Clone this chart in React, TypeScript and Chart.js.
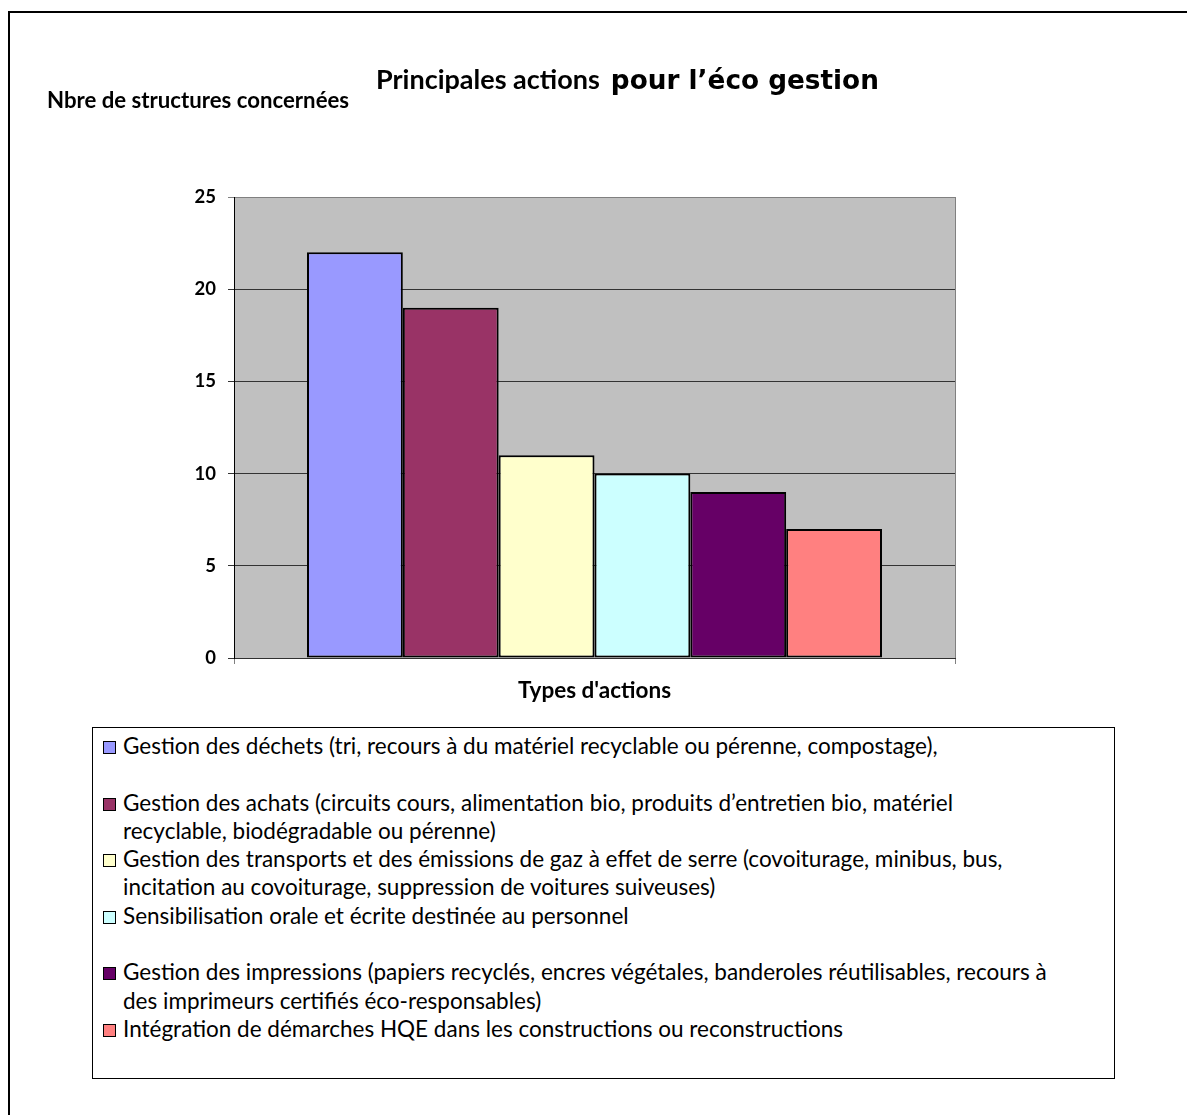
import React, { useEffect, useRef } from "react";
import { Chart, registerables } from "chart.js";

Chart.register(...registerables);

const categories = ["Actions"];
const seriesLabels = [
  "Gestion des déchets (tri, recours à du matériel recyclable ou pérenne, compostage),",
  "Gestion des achats (circuits cours, alimentation bio, produits d’entretien bio, matériel recyclable, biodégradable ou pérenne)",
  "Gestion des transports et des émissions de gaz à effet de serre (covoiturage, minibus, bus, incitation au covoiturage, suppression de voitures suiveuses)",
  "Sensibilisation orale et écrite destinée au personnel",
  "Gestion des impressions (papiers recyclés, encres végétales, banderoles réutilisables, recours à des imprimeurs certifiés éco-responsables)",
  "Intégration de démarches HQE dans les constructions ou reconstructions",
];
const legendLines = [
  ["Gestion des déchets (tri, recours à du matériel recyclable ou pérenne, compostage),"],
  ["Gestion des achats (circuits cours, alimentation bio, produits d’entretien bio, matériel", "recyclable, biodégradable ou pérenne)"],
  ["Gestion des transports et des émissions de gaz à effet de serre (covoiturage, minibus, bus,", "incitation au covoiturage, suppression de voitures suiveuses)"],
  ["Sensibilisation orale et écrite destinée au personnel"],
  ["Gestion des impressions (papiers recyclés, encres végétales, banderoles réutilisables, recours à", "des imprimeurs certifiés éco-responsables)"],
  ["Intégration de démarches HQE dans les constructions ou reconstructions"],
];
const seriesValues = [22, 19, 11, 10, 9, 7];
const seriesColors = ["#9999FF", "#993366", "#FFFFCC", "#CCFFFF", "#660066", "#FF8080"];
const yTickValues = [0, 5, 10, 15, 20, 25];
const titlePart1 = "Principales actions";
const titlePart2 = "pour l’éco gestion";
const yAxisTitle = "Nbre de structures concernées";
const xAxisTitle = "Types d'actions";

const SANS = "Lato, 'Noto Sans', sans-serif";

const plotBackground = {
  id: "plotBackground",
  beforeDraw(chart: any) {
    const { ctx, chartArea } = chart;
    ctx.save();
    ctx.fillStyle = "#C0C0C0";
    ctx.fillRect(chartArea.left, chartArea.top, chartArea.right - chartArea.left, chartArea.bottom - chartArea.top);
    ctx.restore();
  },
};

export default function App() {
  const ref = useRef<HTMLCanvasElement | null>(null);

  useEffect(() => {
    if (!ref.current) return;
    const chart = new Chart(ref.current, {
      type: "bar",
      data: {
        labels: categories,
        datasets: seriesValues.map((v, i) => ({
          label: seriesLabels[i],
          data: [v],
          backgroundColor: seriesColors[i],
          borderColor: "#000000",
          borderWidth: 2,
          borderSkipped: false,
          barPercentage: 1,
          categoryPercentage: 0.7975,
        })),
      },
      options: {
        responsive: false,
        animation: false,
        layout: { padding: { left: 0, top: 197, right: 232, bottom: 0 } },
        plugins: {
          legend: { display: false },
          title: { display: false },
          tooltip: { enabled: false },
        },
        scales: {
          x: {
            grid: {
              offset: true,
              drawOnChartArea: true,
              color: "#808080",
              tickLength: 6,
            },
            border: { color: "#303030", width: 1 },
            ticks: { display: false },
            title: {
              display: true,
              text: xAxisTitle,
              color: "#000",
              font: { family: SANS, weight: "bold", size: 22.5 },
              padding: { top: 0, bottom: 16 },
            },
            afterFit: (s: any) => {
              s.height = 62;
            },
          },
          y: {
            min: yTickValues[0],
            max: yTickValues[yTickValues.length - 1],
            ticks: {
              stepSize: 5,
              color: "#000",
              font: { family: SANS, weight: "bold", size: 18.5 },
              padding: 12,
            },
            grid: {
              color: (c: any) => (c.tick && c.tick.value === 25 ? "#808080" : "#333333"),
              tickLength: 6,
            },
            border: { color: "#000", width: 1 },
            afterFit: (s: any) => {
              s.width = 234;
            },
          },
        },
      },
      plugins: [plotBackground],
    });
    return () => chart.destroy();
  }, []);

  return (
    <div
      style={{
        position: "absolute",
        left: 0,
        top: 0,
        width: 1187,
        height: 1115,
        overflow: "hidden",
        background: "#fff",
        fontFamily: SANS,
      }}
    >
      <div
        style={{
          position: "absolute",
          left: 8,
          top: 11,
          width: 1300,
          height: 1300,
          border: "2px solid #000",
        }}
      />
      <canvas ref={ref} width={1187} height={720} style={{ position: "absolute", left: 0, top: 0, display: "block" }} />
      <div
        style={{
          position: "absolute",
          left: 376,
          top: 61,
          whiteSpace: "nowrap",
          fontWeight: "bold",
          lineHeight: "36px",
          color: "#000",
        }}
      >
        <span style={{ fontFamily: SANS, fontSize: 27 }}>{titlePart1}</span>
        <span style={{ fontFamily: "'DejaVu Sans', Verdana, sans-serif", fontSize: 26.3, marginLeft: 11 }}>{titlePart2}</span>
      </div>
      <div
        style={{
          position: "absolute",
          left: 47,
          top: 86,
          whiteSpace: "nowrap",
          fontWeight: "bold",
          fontSize: 22.2,
          lineHeight: "28px",
          color: "#000",
        }}
      >
        {yAxisTitle}
      </div>
      <div
        style={{
          position: "absolute",
          left: 92,
          top: 727,
          width: 1021,
          height: 350,
          border: "1px solid #000",
          boxSizing: "content-box",
        }}
      >
        {legendLines.map((lines, i) => (
          <div
            key={i}
            style={{
              position: "absolute",
              left: 0,
              top: 4 + i * 56.6,
              height: 56.6,
              width: 1000,
            }}
          >
            <div
              style={{
                position: "absolute",
                left: 10,
                top: 9,
                width: 11,
                height: 11,
                border: "1px solid #000",
                background: seriesColors[i],
              }}
            />
            <div
              style={{
                position: "absolute",
                left: 30,
                top: 0,
                fontSize: 22.5,
                lineHeight: "28.3px",
                whiteSpace: "nowrap",
                color: "#000",
              }}
            >
              {lines.map((l, j) => (
                <div key={j}>{l}</div>
              ))}
            </div>
          </div>
        ))}
      </div>
    </div>
  );
}
